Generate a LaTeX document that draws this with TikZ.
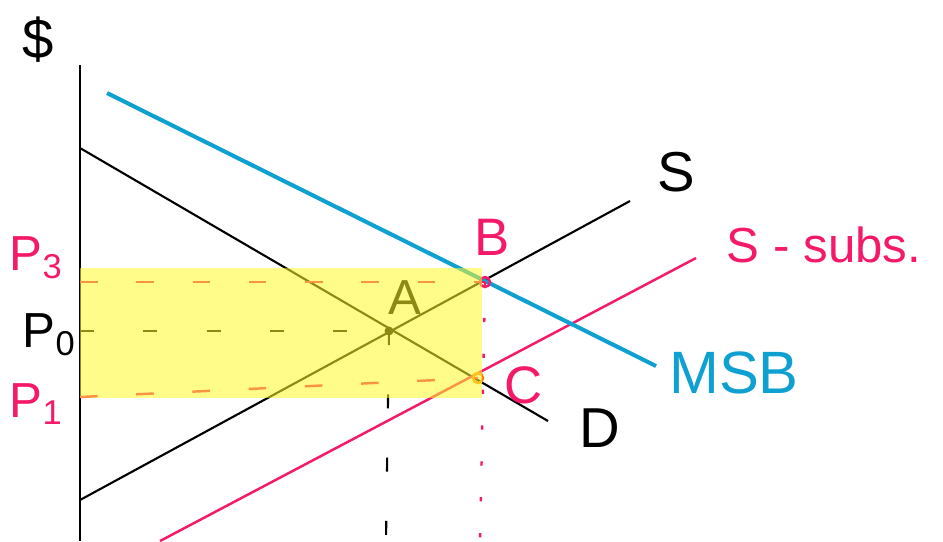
\documentclass[tikz,border=0pt]{standalone}
\usepackage{fontspec}
\setmainfont{Liberation Sans}
\usetikzlibrary{positioning}
\definecolor{subspink}{RGB}{245,25,105}
\definecolor{msbblue}{RGB}{15,160,210}
\definecolor{hilite}{RGB}{255,250,40}

\begin{document}
\begin{tikzpicture}[
    x=0.01cm, y=-0.01cm,
    curve/.style={line width=0.6pt},
    msbline/.style={line width=1.15pt, msbblue},
    subsline/.style={line width=0.7pt, subspink},
    pdash/.style={line width=0.7pt, subspink, dash pattern=on 5pt off 11pt},
    pdot/.style={line width=0.7pt, subspink, dash pattern=on 1.2pt off 9pt},
    kdash/.style={line width=0.6pt, dash pattern=on 4pt off 14pt},
    lbl/.style={inner sep=0pt, font=\fontsize{14}{16}\selectfont},
    plbl/.style={lbl, subspink}
]
\useasboundingbox (0,0) rectangle (943,541);

% axis and curve end points
\coordinate (top) at (80,65);
\coordinate (bot) at (80,541);
\coordinate (msb0) at (107,93);
\coordinate (msb1) at (656,366);
\coordinate (d0) at (80,148);
\coordinate (d1) at (548,421);
\coordinate (s0) at (80,500);
\coordinate (s1) at (630,201);
\coordinate (ss0) at (160,541);
\coordinate (ss1) at (696,258);

% equilibrium points
\coordinate (A) at (389,331);
\coordinate (B) at (485,282);
\coordinate (C) at (478,378);

% price levels on the axis
\coordinate (p3) at (80,282);
\coordinate (p0) at (80,331);
\coordinate (p1) at (80,397);
\coordinate (qa) at (386,541);
\coordinate (qb) at (480,541);

\draw[curve] (top) -- (bot);
\draw[curve] (d0) -- (d1);
\draw[curve] (s0) -- (s1);
\draw[subsline] (ss0) -- (ss1);
\draw[msbline] (msb0) -- (msb1);

\draw[pdash] (p3) -- (B);
\draw[pdash] (p1) -- (C);
\draw[pdot] (B) -- (qb);
\draw[kdash] (p0) -- (A);
\draw[kdash] (A) -- (qa);

\fill (A) circle (4.5);
\draw[subspink, line width=0.7pt] (B) circle (5);
\draw[orange, line width=0.7pt] (C) circle (5);

\node[lbl] (alab) at (405,298) {A};

% highlighted area
\fill[hilite, fill opacity=0.55] (80,268) rectangle (482,398);

% labels
\node[lbl, font=\fontsize{16}{18}\selectfont] (dollar) at (38,40) {\$};
\node[lbl, font=\fontsize{16}{18}\selectfont] (slab) at (676,172) {S};
\node[plbl] (sslab) at (824,245) {S - subs.};
\node[lbl, msbblue, font=\fontsize{17}{19}\selectfont] (msblab) at (734,373) {MSB};
\node[lbl, font=\fontsize{16}{18}\selectfont] (dlab) at (600,428) {D};
\node[plbl, font=\fontsize{15}{17}\selectfont] (blab) at (492,237) {B};
\node[plbl, font=\fontsize{15}{17}\selectfont] (clab) at (524,385) {C};
\node[plbl, anchor=west] (p3lab) at (9,258) {P\textsubscript{3}};
\node[lbl, anchor=west] (p0lab) at (22,335) {P\textsubscript{0}};
\node[plbl, anchor=west] (p1lab) at (9,404) {P\textsubscript{1}};
\end{tikzpicture}
\end{document}
